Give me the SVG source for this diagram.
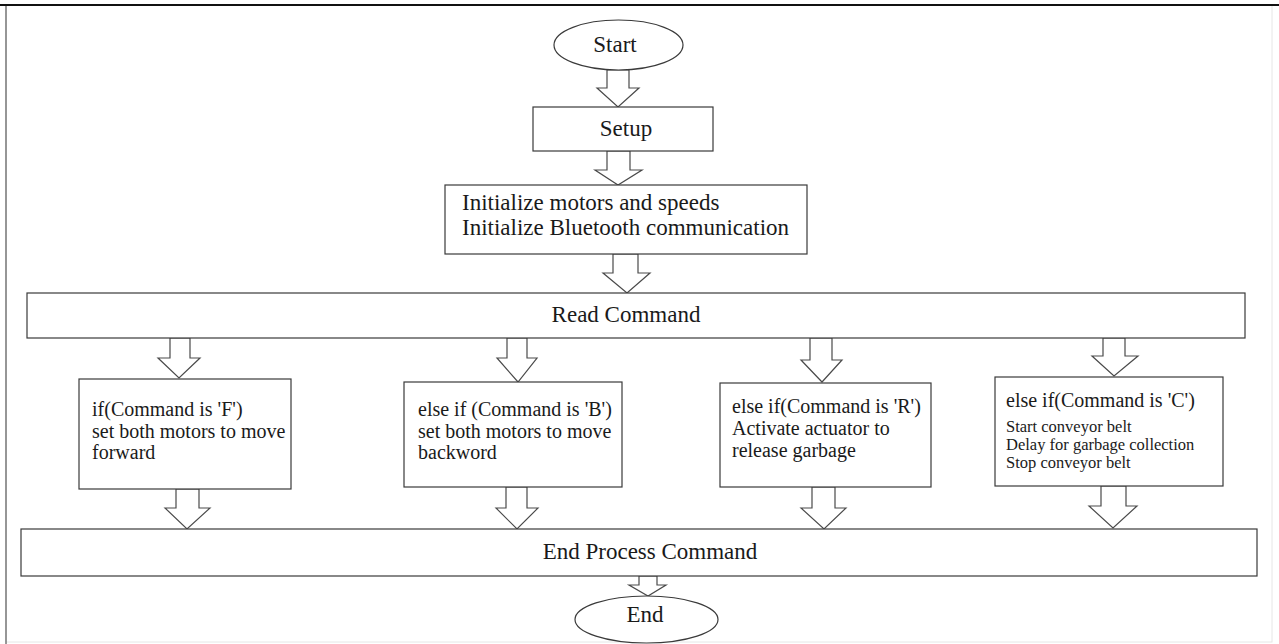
<svg xmlns="http://www.w3.org/2000/svg" width="1279" height="644" viewBox="0 0 1279 644">
<style>
.box{fill:#fff;stroke:#3a3a3a;stroke-width:1.2}
.arr{fill:#fff;stroke:#4a4a4a;stroke-width:1.2;stroke-linejoin:miter}
.t{font-family:"Liberation Serif","Times New Roman",serif;fill:#1a1a1a}
.big{font-size:23px}
.mid{font-size:20px}
.sm{font-size:16.5px}
.c{text-anchor:middle}
</style>
<rect x="0" y="0" width="1279" height="644" fill="#fff"/>
<g id="frame">
<rect x="6" y="5" width="1266" height="637" fill="none" stroke="#e6e6e6" stroke-width="1"/>
<line x1="6" y1="5" x2="6" y2="644" stroke="#777" stroke-width="1.5"/>
<line x1="0" y1="5" x2="1279" y2="5" stroke="#111" stroke-width="2"/>
</g>
<g id="connectors">
<polygon class="arr" points="607,70 607,88 597,88 618,107 639,88 629,88 629,70"/>
<polygon class="arr" points="607,151 607,170 595,170 618,185 642,170 630,170 630,151"/>
<polygon class="arr" points="613,254 613,273 603,273 627,293 650,273 638,273 638,254"/>
<polygon class="arr" points="170,338 170,358 158,358 179,378 200,358 190,358 190,338"/>
<polygon class="arr" points="507,338 507,358 497,358 518,382 537,358 527,358 527,338"/>
<polygon class="arr" points="810,338 810,360 801,360 822,382 842,360 832,360 832,338"/>
<polygon class="arr" points="1103,338 1103,356 1092,356 1114,376 1138,356 1125,356 1125,338"/>
<polygon class="arr" points="176,489 176,508 165,508 187,529 210,508 199,508 199,489"/>
<polygon class="arr" points="506,487 506,508 496,508 517,529 538,508 527,508 527,487"/>
<polygon class="arr" points="812,487 812,508 801,508 824,529 846,508 835,508 835,487"/>
<polygon class="arr" points="1101,486 1101,506 1089,506 1113,528 1137,506 1126,506 1126,486"/>
<polygon class="arr" points="639,576 639,585 629,585 648,596 666,585 657,585 657,576"/>
</g>
<g id="start">
<ellipse class="box" cx="618.5" cy="45" rx="64.5" ry="25"/>
<text class="t big c" x="615" y="52">Start</text>
</g>
<g id="setup">
<rect class="box" x="533" y="107" width="180" height="44"/>
<text class="t big c" x="626" y="136">Setup</text>
</g>
<g id="init">
<rect class="box" x="445" y="185" width="362" height="69"/>
<text class="t big" x="462" y="210">Initialize motors and speeds</text>
<text class="t big" x="462" y="235">Initialize Bluetooth communication</text>
</g>
<g id="read">
<rect class="box" x="27" y="293" width="1218" height="45"/>
<text class="t big c" x="626" y="322">Read Command</text>
</g>
<g id="cmdF">
<rect class="box" x="79" y="379" width="212" height="110"/>
<text class="t mid" x="92" y="416">if(Command is 'F')</text>
<text class="t mid" x="92" y="438">set both motors to move</text>
<text class="t mid" x="92" y="459">forward</text>
</g>
<g id="cmdB">
<rect class="box" x="404" y="382" width="218" height="105"/>
<text class="t mid" x="418" y="416">else if (Command is 'B')</text>
<text class="t mid" x="418" y="438">set both motors to move</text>
<text class="t mid" x="418" y="459">backword</text>
</g>
<g id="cmdR">
<rect class="box" x="720" y="383" width="211" height="104"/>
<text class="t mid" x="732" y="413">else if(Command is 'R')</text>
<text class="t mid" x="732" y="435">Activate actuator to</text>
<text class="t mid" x="732" y="457">release garbage</text>
</g>
<g id="cmdC">
<rect class="box" x="995" y="377" width="228" height="109"/>
<text class="t mid" x="1006" y="407">else if(Command is 'C')</text>
<text class="t sm" x="1006" y="432">Start conveyor belt</text>
<text class="t sm" x="1006" y="450">Delay for garbage collection</text>
<text class="t sm" x="1006" y="468">Stop conveyor belt</text>
</g>
<g id="endproc">
<rect class="box" x="21" y="529" width="1236" height="47"/>
<text class="t big c" x="650" y="559">End Process Command</text>
</g>
<g id="end">
<ellipse class="box" cx="646.5" cy="619.5" rx="71.5" ry="23.5"/>
<text class="t big c" x="645" y="622">End</text>
</g>
</svg>
